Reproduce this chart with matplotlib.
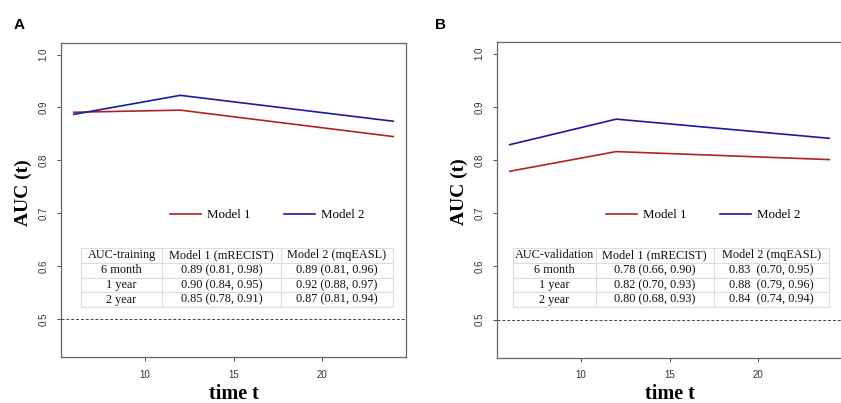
import matplotlib
matplotlib.use('Agg')
import matplotlib.pyplot as plt

times = [6, 12, 24]
train_model1 = [0.891, 0.895, 0.845]
train_model2 = [0.887, 0.923, 0.874]
valid_model1 = [0.779, 0.816, 0.801]
valid_model2 = [0.829, 0.877, 0.841]

row_labels = ['6 month', '1 year', '2 year']
col_labels = ['Model 1 (mRECIST)', 'Model 2 (mqEASL)']
train_cells = [['0.89 (0.81, 0.98)', '0.89 (0.81, 0.96)'],
               ['0.90 (0.84, 0.95)', '0.92 (0.88, 0.97)'],
               ['0.85 (0.78, 0.91)', '0.87 (0.81, 0.94)']]
valid_cells = [['0.78 (0.66, 0.90)', '0.83  (0.70, 0.95)'],
               ['0.82 (0.70, 0.93)', '0.88  (0.79, 0.96)'],
               ['0.80 (0.68, 0.93)', '0.84  (0.74, 0.94)']]

red = '#b22222'
blue = '#1a1a9c'
serif = 'Liberation Serif'
sans = 'Liberation Sans'


def draw_panel(ax, m1, m2, corner, cells, tbl_box, col_w, xlab_y):
    ax.plot(times, m1, color=red, lw=1.2, label='Model 1')
    ax.plot(times, m2, color=blue, lw=1.2, label='Model 2')
    ax.axhline(0.5, color='#444444', lw=0.7, ls=(0, (3, 2)))
    # R style limits: 4% padding
    ax.set_xlim(6 - 0.72, 24 + 0.72)
    ax.set_ylim(0.45 - 0.022, 1.0 + 0.022)
    ax.set_xticks([10, 15, 20])
    ax.set_yticks([0.5, 0.6, 0.7, 0.8, 0.9, 1.0])
    ax.set_yticklabels(['0.5', '0.6', '0.7', '0.8', '0.9', '1.0'], rotation=90, va='center')
    ax.tick_params(labelsize=7, colors='#333333', length=3, width=0.6, pad=6)
    for lab in ax.get_xticklabels() + ax.get_yticklabels():
        lab.set_family(sans)
    for sp in ax.spines.values():
        sp.set_color('#666666')
        sp.set_linewidth(0.9)
    ax.set_xlabel('time t', family=serif, weight='bold', fontsize=14.5, va='baseline')
    ax.xaxis.set_label_coords(0.5, xlab_y)
    ax.set_ylabel('AUC (t)', family=serif, weight='bold', fontsize=14, va='center')
    ax.yaxis.set_label_coords(-0.108, 0.525)

    ax.legend(loc='center', bbox_to_anchor=(0.597, 0.452), ncol=2, frameon=False,
              handlelength=2.4, handletextpad=0.45, columnspacing=2.6,
              prop={'family': serif, 'size': 9.3})

    # table with the AUC values
    table_text = [[corner] + col_labels]
    for name, row in zip(row_labels, cells):
        table_text.append([name] + row)
    tbl = ax.table(cellText=table_text, cellLoc='center', bbox=tbl_box, colWidths=col_w)
    tbl.auto_set_font_size(False)
    for cell in tbl.get_celld().values():
        cell.set_edgecolor('#dddddd')
        cell.set_linewidth(0.8)
        cell.PAD = 0.02
        cell.get_text().set_fontsize(8.8)
        cell.get_text().set_family(serif)
        cell.get_text().set_color('#111111')


fig = plt.figure(figsize=(8.41, 4.03), dpi=100)
ax1 = fig.add_axes([61 / 841, 46 / 403, 345 / 841, 314 / 403])
ax2 = fig.add_axes([497 / 841, 45 / 403, 345 / 841, 316 / 403])

draw_panel(ax1, train_model1, train_model2, 'AUC-training', train_cells,
           [0.058, 0.159, 0.904, 0.188], [0.26, 0.381, 0.359], -0.134)
draw_panel(ax2, valid_model1, valid_model2, 'AUC-validation', valid_cells,
           [0.046, 0.161, 0.916, 0.187], [0.262, 0.373, 0.365], -0.130)

fig.text(19 / 841, 1 - 25 / 403, 'A', family=sans, weight='bold', fontsize=11, ha='center', va='center')
fig.text(441 / 841, 1 - 25 / 403, 'B', family=sans, weight='bold', fontsize=11, ha='center', va='center')

fig.savefig('out.png', dpi=100)
